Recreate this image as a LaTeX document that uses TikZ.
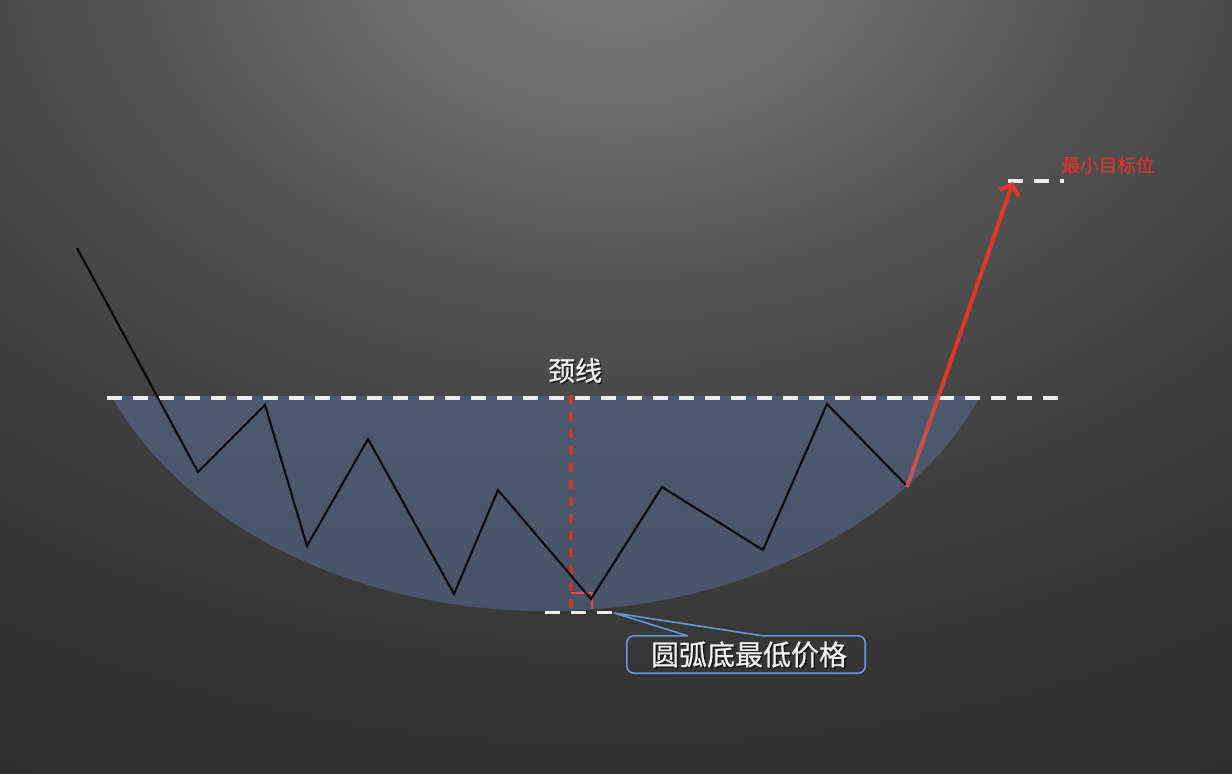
\documentclass[tikz,border=0pt]{standalone}
\usepackage{fontspec}
\newfontfamily\cjk{Noto Sans CJK SC}[FakeBold=0.7]
\newfontfamily\cjkred{Noto Sans CJK SC}[FakeBold=1.2]
\usetikzlibrary{arrows.meta,calc}
\definecolor{bg0}{RGB}{122,122,122}
\definecolor{bg1}{RGB}{110,110,110}
\definecolor{bg2}{RGB}{82,82,82}
\definecolor{bg3}{RGB}{64,64,64}
\definecolor{bg4}{RGB}{49,49,49}
\definecolor{bg5}{RGB}{43,43,43}
\definecolor{bowlTop}{RGB}{77,89,110}
\definecolor{bowlBot}{RGB}{70,82,102}
\definecolor{dashWhite}{RGB}{238,238,238}
\definecolor{redDash}{RGB}{198,58,45}
\definecolor{redMark}{RGB}{212,78,78}
\definecolor{arrTop}{RGB}{224,56,38}
\definecolor{arrBot}{RGB}{190,88,92}
\definecolor{labelRed}{RGB}{208,56,46}
\definecolor{calloutBlue}{RGB}{100,150,220}
\definecolor{textWhite}{RGB}{242,242,242}
\pgfdeclareradialshading{bgrad}{\pgfpoint{0bp}{0bp}}{color(0bp)=(bg0); color(3.75bp)=(bg1); color(8.75bp)=(bg2); color(13.75bp)=(bg3); color(20bp)=(bg4); color(25bp)=(bg5); color(50bp)=(bg5)}
\begin{document}
\begin{tikzpicture}[x=1pt,y=-1pt,
  whitedash/.style={draw=dashWhite, line width=3.6pt, dash pattern=on 15pt off 11pt},
  reddashed/.style={draw=redDash, line width=4pt, dash pattern=on 8.5pt off 8.5pt},
  chart/.style={draw=black, line width=2pt, line join=miter},
  calloutline/.style={draw=calloutBlue, line width=1.6pt},
  shadowtxt/.style={text=black, opacity=0.55, inner sep=0pt},
  bigtxt/.style={text=textWhite, inner sep=0pt}
]
\useasboundingbox (0,0) rectangle (1232,774);
\begin{scope}
  \clip (0,0) rectangle (1232,774);
  \shade[shading=bgrad] (616,-50) ellipse [x radius=1450, y radius=1000];
\end{scope}

% bowl (part of an ellipse below the neckline)
\shade[top color=bowlTop, bottom color=bowlBot]
  (980.6,396) arc[start angle=22.69, end angle=157.31, x radius=471, y radius=350] -- cycle;

% neckline and levels
\coordinate (nlL) at (107,398);
\coordinate (nlR) at (1063,398);
\coordinate (lowL) at (545,612.5);
\coordinate (lowR) at (612,612.5);
\coordinate (tgtL) at (1008,181);
\coordinate (tgtR) at (1064,181);
\draw[whitedash] (nlL) -- (nlR);
\draw[whitedash] (lowL) -- (lowR);
\draw[whitedash] (tgtL) -- (tgtR);

% red vertical dashed line and right-angle mark
\coordinate (vTop) at (571,395);
\coordinate (vBot) at (571,610);
\draw[reddashed] (vTop) -- (vBot);
\coordinate (mk1) at (571,593);
\coordinate (mk2) at (592,593);
\coordinate (mk3) at (592,609);
\draw[draw=redMark, line width=1.5pt] (mk1) -- (mk2) -- (mk3);

% price zigzag
\draw[chart] (77,248) -- (198,472) -- (265,405) -- (307,546) -- (368,439) -- (454,594) -- (498,490) -- (591,599) -- (662,487) -- (763,550) -- (827,404) -- (906,485);

% breakout arrow
\coordinate (arrS) at (907,487);
\coordinate (arrE) at (1013,182);
\foreach \i in {0,...,11} {
  \pgfmathsetmacro\ta{\i*0.4/12}
  \pgfmathsetmacro\tb{(\i+1)*0.4/12+0.004}
  \pgfmathtruncatemacro\p{(\i+0.5)*100/12}
  \draw[line width=4pt, color=arrTop!\p!arrBot] ($(arrS)!\ta!(arrE)$) -- ($(arrS)!\tb!(arrE)$);
}
\draw[line width=4pt, color=arrTop, -{Straight Barb[length=9pt,width=20pt]}] ($(arrS)!0.4!(arrE)$) -- (arrE);

% labels
\node[text=labelRed, inner sep=0pt] (tgtlbl) at (1108,165) {\cjkred\fontsize{18.5}{20}\selectfont 最小目标位};
\node[shadowtxt] (necksh) at (576.5,372) {\cjk\fontsize{27}{30}\selectfont 颈线};
\node[bigtxt] (necklbl) at (575,370.5) {\cjk\fontsize{27}{30}\selectfont 颈线};

% callout
\node[minimum width=238pt, minimum height=37pt, inner sep=0pt] (callbox) at (746,654.5) {};
\node[shadowtxt] (callsh) at (750.5,656) {\cjk\fontsize{28}{30}\selectfont 圆弧底最低价格};
\node[bigtxt] (calllbl) at (749,654.5) {\cjk\fontsize{28}{30}\selectfont 圆弧底最低价格};
\coordinate (tip) at (614,613);
\draw[calloutline] ($(callbox.north west)+(61,0)$) -- (tip) -- ($(callbox.north west)+(136,0)$)
  [rounded corners=7pt] -- (callbox.north east) -- (callbox.south east) -- (callbox.south west) -- (callbox.north west) -- ($(callbox.north west)+(61,0)$);
\end{tikzpicture}
\end{document}
